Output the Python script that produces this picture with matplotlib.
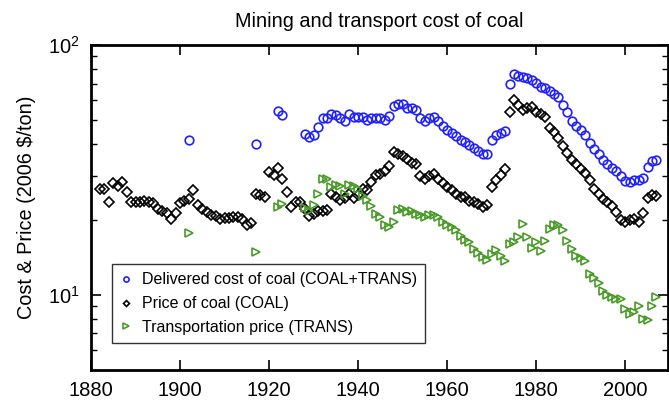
import matplotlib
matplotlib.use("Agg")
import matplotlib.pyplot as plt
from matplotlib.ticker import LogLocator, NullFormatter

plt.rcParams['font.family'] = ['Liberation Sans', 'DejaVu Sans']
plt.rcParams['mathtext.fontset'] = 'custom'
plt.rcParams['mathtext.rm'] = 'Liberation Sans'
plt.rcParams['mathtext.it'] = 'Liberation Sans:italic'
plt.rcParams['mathtext.bf'] = 'Liberation Sans:bold'

# ---- data ----
coal_years = list(range(1882, 2008))
coal_price = [
    26.4, 26.4, 23.5, 28.0, 27.2, 28.2, 25.8, 23.6, 23.6, 23.6,   # 1882-1891
    23.7, 23.5, 23.3, 22.1, 21.7, 21.2, 20.1, 21.2, 23.4, 23.8,   # 1892-1901
    24.1, 26.3, 22.9, 22.1, 21.4, 20.9, 20.6, 20.1, 20.3, 20.3,   # 1902-1911
    20.5, 20.5, 20.1, 19.1, 19.4, 25.3, 25.0, 24.7, 31.0, 30.2,   # 1912-1921
    32.2, 29.2, 25.7, 22.4, 23.5, 23.5, 22.0, 20.7, 21.1, 21.6,   # 1922-1931
    21.6, 21.8, 25.3, 24.6, 23.9, 24.3, 25.3, 24.5, 25.0, 26.6,   # 1932-1941
    26.2, 28.3, 30.2, 30.5, 31.3, 32.9, 37.3, 36.7, 36.1, 35.0,   # 1942-1951
    33.8, 33.3, 30.0, 29.2, 30.0, 30.5, 29.2, 28.0, 27.0, 26.2,   # 1952-1961
    25.4, 24.6, 24.6, 23.7, 23.5, 23.2, 22.5, 22.9, 27.0, 28.7,   # 1962-1971
    30.2, 31.8, 53.7, 60.1, 57.4, 54.8, 55.7, 56.5, 53.9, 52.8,   # 1972-1981
    51.6, 46.7, 44.9, 42.6, 39.3, 36.9, 34.5, 33.3, 32.0, 30.7,   # 1982-1991
    28.7, 26.4, 25.4, 24.2, 23.5, 22.6, 21.4, 19.9, 19.6, 19.9,   # 1992-2001
    20.2, 19.5, 21.2, 24.5, 25.2, 24.9,                           # 2002-2007
]

deliv_years = [1902, 1917, 1922, 1923] + list(range(1928, 2008))
deliv_cost = [
    41.8, 40.2, 54.5, 52.3,
    44.2, 42.9, 43.8, 47.0, 50.8, 51.2, 52.8, 52.3, 51.2, 49.5,   # 1928-1937
    52.8, 51.5, 51.5, 51.5, 50.3, 51.2, 51.2, 51.2, 50.3, 51.9,   # 1938-1947
    57.1, 58.3, 58.3, 55.7, 55.7, 54.8, 50.8, 49.5, 50.8, 51.3,   # 1948-1957
    49.6, 47.4, 45.8, 44.5, 43.2, 41.8, 40.9, 39.7, 38.8, 37.6,   # 1958-1967
    36.5, 36.5, 41.5, 43.8, 44.5, 45.3, 69.7, 76.2, 75.1, 74.7,   # 1968-1977
    73.9, 72.3, 70.2, 68.0, 67.4, 65.5, 63.4, 61.7, 57.4, 53.7,   # 1978-1987
    49.6, 47.3, 45.5, 43.8, 40.7, 38.2, 36.5, 34.8, 33.3, 32.2,   # 1988-1997
    31.2, 29.8, 28.5, 28.3, 28.7, 28.7, 29.4, 32.5, 34.3, 34.8,   # 1998-2007
]

trans_years = [1902, 1917, 1922, 1923] + list(range(1928, 2008))
trans_price = [
    17.6, 14.8, 22.4, 23.2,
    22.2, 21.7, 22.8, 25.3, 29.2, 29.2, 27.0, 27.4, 27.2, 25.3,   # 1928-1937
    27.4, 27.2, 26.5, 24.8, 23.9, 22.6, 21.0, 20.5, 19.0, 18.7,   # 1938-1947
    19.6, 21.8, 22.0, 21.4, 21.6, 21.0, 20.8, 20.5, 20.8, 20.8,   # 1948-1957
    20.4, 19.5, 19.0, 18.6, 18.2, 17.2, 16.5, 16.2, 15.2, 14.7,   # 1958-1967
    14.2, 13.8, 14.6, 15.1, 14.3, 13.6, 15.9, 16.2, 17.1, 19.2,   # 1968-1977
    17.1, 15.4, 16.2, 15.0, 16.4, 18.4, 19.0, 19.0, 18.1, 16.4,   # 1978-1987
    15.2, 14.3, 14.1, 13.7, 12.1, 11.7, 11.2, 10.4, 10.0, 9.8,    # 1988-1997
    9.6, 9.6, 8.8, 8.4, 8.5, 9.0, 8.0, 7.9, 9.0, 9.8,             # 1998-2007
]

labels = ["Delivered cost of coal (COAL+TRANS)",
          "Price of coal (COAL)",
          "Transportation price (TRANS)"]
x_ticks = [1880, 1900, 1920, 1940, 1960, 1980, 2000]

# ---- figure ----
W, H = 669, 407
fig = plt.figure(figsize=(W / 100, H / 100), dpi=100)
ax = fig.add_axes([91 / W, 1 - 370 / H, (668 - 91) / W, (370 - 45) / H])

blue = '#2020ff'
green = '#4a9a28'

ax.plot(deliv_years, deliv_cost, linestyle='none', marker='o', markersize=6.2,
        markerfacecolor='none', markeredgecolor=blue, markeredgewidth=1.2,
        label=labels[0])
ax.plot(coal_years, coal_price, linestyle='none', marker='D', markersize=5.0,
        markerfacecolor='none', markeredgecolor='black', markeredgewidth=1.2,
        label=labels[1])
ax.plot(trans_years, trans_price, linestyle='none', marker='>', markersize=6.2,
        markerfacecolor='none', markeredgecolor=green, markeredgewidth=1.2,
        label=labels[2])

ax.set_yscale('log')
ax.set_ylim(5, 100)
ax.set_xlim(1880, 2009.6)
ax.set_xticks(x_ticks)
ax.set_xticklabels([str(t) for t in x_ticks])
ax.yaxis.set_major_locator(LogLocator(base=10, numticks=10))
ax.yaxis.set_minor_locator(LogLocator(base=10, subs=range(2, 10), numticks=20))
ax.yaxis.set_minor_formatter(NullFormatter())

ax.tick_params(axis='both', which='major', direction='in', length=7, width=1.2,
               top=True, right=True, labelsize=14.5, pad=8)
ax.tick_params(axis='y', which='minor', direction='in', length=4, width=1.0,
               left=True, right=True)
ax.tick_params(axis='x', which='minor', bottom=False, top=False)
for s in ax.spines.values():
    s.set_linewidth(2)

ax.set_title("Mining and transport cost of coal", fontsize=14.3, pad=13)
ax.set_ylabel("Cost & Price (2006 $/ton)", fontsize=14.3, labelpad=9)

leg = ax.legend(loc='lower left', bbox_to_anchor=(21 / 577, 27 / 325),
                fontsize=11.5, markerscale=0.6, handlelength=0.8,
                handletextpad=0.6, borderpad=0.5, labelspacing=0.55,
                frameon=True, fancybox=False, edgecolor='black', borderaxespad=0)
leg.get_frame().set_linewidth(1.0)

fig.savefig("out.png", dpi=100)
